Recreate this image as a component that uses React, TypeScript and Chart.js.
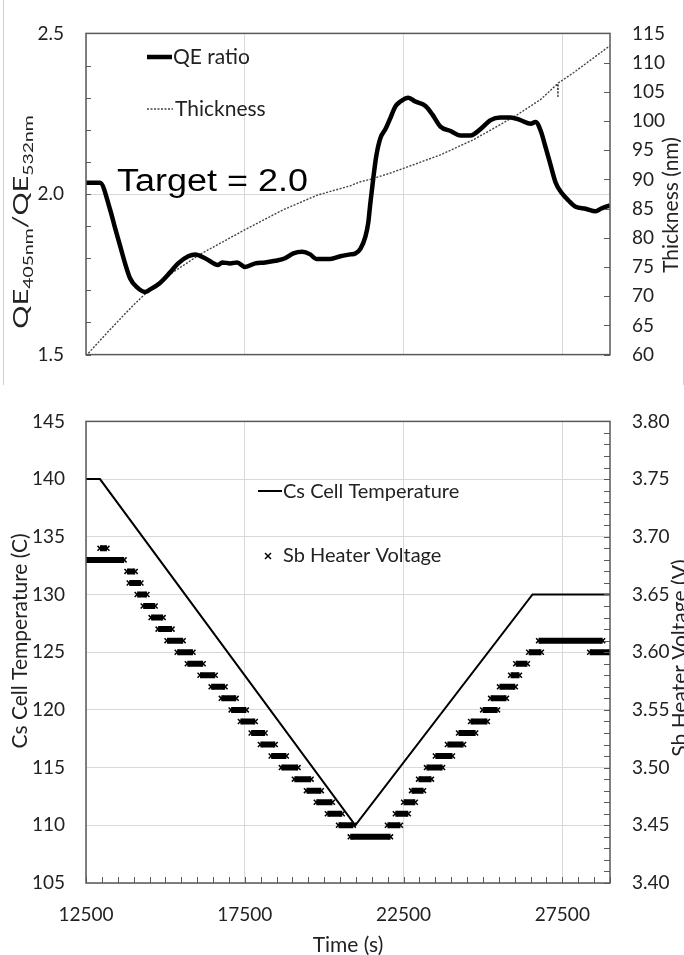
import React, { useEffect, useRef } from 'react';
import { Chart, registerables } from 'chart.js';

Chart.register(...registerables);

// ---------------- Data: top panel ----------------
const qeTime = [12500, 12940, 13260, 13410, 13570, 13730, 13890, 14110, 14360, 14520, 14830, 15150, 15400, 15720, 15940, 16250, 16660, 16790, 17040, 17260, 17510, 17830, 18140, 18460, 18770, 19030, 19310, 19560, 19750, 20190, 20510, 20820, 20980, 21140, 21300, 21390, 21450, 21550, 21640, 21770, 21930, 22090, 22240, 22400, 22650, 22870, 23190, 23410, 23660, 23980, 24290, 24610, 24920, 25240, 25550, 25870, 26180, 26500, 26660, 26820, 26970, 27130, 27290, 27450, 27700, 27920, 28230, 28550, 28710, 29000];
const qeRatio = [2.035, 2.035, 1.951, 1.896, 1.84, 1.784, 1.737, 1.709, 1.695, 1.703, 1.723, 1.756, 1.784, 1.806, 1.812, 1.80, 1.779, 1.787, 1.784, 1.787, 1.773, 1.784, 1.787, 1.792, 1.80, 1.815, 1.82, 1.812, 1.798, 1.798, 1.806, 1.812, 1.815, 1.829, 1.868, 1.912, 1.968, 2.052, 2.118, 2.174, 2.202, 2.238, 2.272, 2.288, 2.30, 2.288, 2.274, 2.247, 2.21, 2.196, 2.182, 2.182, 2.202, 2.23, 2.238, 2.238, 2.23, 2.219, 2.224, 2.196, 2.146, 2.09, 2.035, 2.007, 1.979, 1.96, 1.954, 1.946, 1.954, 1.965];

const thickTime = [12500, 13260, 13980, 14520, 15240, 16100, 17510, 18710, 19780, 20820, 21140, 21450, 22090, 22500, 23660, 24700, 25460, 26090, 26820, 27350, 27360, 27370, 27860, 29000];
const thickNm = [59.8, 64.3, 68.4, 71.2, 74.1, 77.2, 81.4, 84.8, 87.3, 88.9, 89.6, 90.0, 91.1, 91.9, 94.2, 96.8, 99.1, 101.1, 103.7, 106.4, 104.0, 106.5, 108.3, 112.9];

const topXTicks = [12500, 17500, 22500, 27500];
const qeTicks = [1.5, 2.0, 2.5];
const thickTicks = [60, 65, 70, 75, 80, 85, 90, 95, 100, 105, 110, 115];

// ---------------- Data: bottom panel ----------------
const csTime = [12500, 12940, 20980, 26560, 29000];
const csTemp = [140, 140, 110, 130, 130];

const sbStart = [12500, 12940, 13790, 13860, 14110, 14300, 14550, 14770, 15050, 15370, 15690, 16090, 16440, 16760, 17070, 17360, 17700, 17990, 18330, 18650, 19060, 19440, 19750, 20100, 20450, 20820, 21990, 22240, 22500, 22750, 22970, 23220, 23500, 23880, 24230, 24610, 24990, 25240, 25520, 25870, 26030, 26440, 26750, 28360];
const sbEnd = [13700, 13160, 14050, 14230, 14420, 14680, 14930, 15210, 15560, 15870, 16190, 16570, 16880, 17230, 17550, 17830, 18140, 18460, 18810, 19180, 19590, 19910, 20260, 20570, 20920, 22090, 22400, 22650, 22870, 23130, 23380, 23730, 24040, 24390, 24770, 25140, 25460, 25740, 26020, 26150, 26400, 26840, 28770, 29000];
const sbVolt = [3.68, 3.69, 3.67, 3.66, 3.65, 3.64, 3.63, 3.62, 3.61, 3.60, 3.59, 3.58, 3.57, 3.56, 3.55, 3.54, 3.53, 3.52, 3.51, 3.50, 3.49, 3.48, 3.47, 3.46, 3.45, 3.44, 3.45, 3.46, 3.47, 3.48, 3.49, 3.50, 3.51, 3.52, 3.53, 3.54, 3.55, 3.56, 3.57, 3.58, 3.59, 3.60, 3.61, 3.60];

const timeTicks = [12500, 17500, 22500, 27500];
const tempTicks = [105, 110, 115, 120, 125, 130, 135, 140, 145];
const voltTicks = [3.40, 3.45, 3.50, 3.55, 3.60, 3.65, 3.70, 3.75, 3.80];

// ---------------- Styles ----------------
const FONT = 'Lato';
const TEXT = '#222222';
const GRID = '#d9d9d9';
const BORDER = '#595959';
const tickFont = { family: FONT, size: 19 };

function hline(ctx: CanvasRenderingContext2D, x1: number, y1: number, x2: number, y2: number) {
  ctx.beginPath();
  ctx.moveTo(x1, y1);
  ctx.lineTo(x2, y2);
  ctx.stroke();
}

function rotText(ctx: CanvasRenderingContext2D, text: string, x: number, y: number) {
  ctx.save();
  ctx.translate(x, y);
  ctx.rotate(-Math.PI / 2);
  ctx.textAlign = 'center';
  ctx.textBaseline = 'alphabetic';
  ctx.fillText(text, 0, 0);
  ctx.restore();
}

const topDecor = {
  id: 'topDecor',
  afterDatasetsDraw(chart: any) {
    const { ctx, chartArea, scales } = chart;
    const { left, right, top, bottom } = chartArea;
    ctx.save();
    ctx.strokeStyle = BORDER;
    ctx.lineWidth = 1.5;
    ctx.strokeRect(left, top, right - left, bottom - top);
    ctx.lineWidth = 1;
    // minor ticks on QE axis (inward)
    for (let k = 0; k <= 10; k++) {
      const p = Math.round(scales.y.getPixelForValue(1.5 + k * 0.1)) + 0.5;
      hline(ctx, left, p, left + 5, p);
    }
    // ticks on thickness axis (inward)
    for (const v of thickTicks) {
      const p = Math.round(scales.y2.getPixelForValue(v)) + 0.5;
      hline(ctx, right - 6, p, right, p);
    }
    // Legend
    ctx.strokeStyle = '#000';
    ctx.lineWidth = 4.5;
    hline(ctx, 147, 57, 172, 57);
    ctx.strokeStyle = '#444';
    ctx.lineWidth = 1.4;
    ctx.setLineDash([2, 1.5]);
    hline(ctx, 147, 109, 173, 109);
    ctx.setLineDash([]);
    ctx.fillStyle = TEXT;
    ctx.font = `21px ${FONT}`;
    ctx.textAlign = 'left';
    ctx.textBaseline = 'middle';
    ctx.fillText('QE ratio', 173, 57);
    ctx.fillText('Thickness', 175, 109);
    // Target annotation
    ctx.save();
    ctx.fillStyle = '#000';
    ctx.font = `31px "Liberation Sans", Arial, sans-serif`;
    ctx.textBaseline = 'alphabetic';
    ctx.translate(117, 191);
    ctx.scale(1.16, 1);
    ctx.fillText('Target = 2.0', 0, 0);
    ctx.restore();
    // Right axis title
    ctx.fillStyle = TEXT;
    ctx.font = `21px ${FONT}`;
    rotText(ctx, 'Thickness (nm)', 678, 205);
    // Left axis title with subscripts
    ctx.save();
    ctx.translate(28, 222);
    ctx.rotate(-Math.PI / 2);
    ctx.scale(1.38, 1);
    const parts: [string, boolean][] = [['QE', false], ['405nm', true], ['/QE', false], ['532nm', true]];
    const big = `21px ${FONT}`;
    const small = `14px ${FONT}`;
    let total = 0;
    for (const [s, sub] of parts) {
      ctx.font = sub ? small : big;
      total += ctx.measureText(s).width;
    }
    let cx = -total / 2;
    ctx.textAlign = 'left';
    ctx.textBaseline = 'alphabetic';
    for (const [s, sub] of parts) {
      ctx.font = sub ? small : big;
      ctx.fillText(s, cx, sub ? 5 : 0);
      cx += ctx.measureText(s).width;
    }
    ctx.restore();
    ctx.restore();
  },
};

const bottomDecor = {
  id: 'bottomDecor',
  afterDatasetsDraw(chart: any) {
    const { ctx, chartArea, scales } = chart;
    const { left, right, top, bottom } = chartArea;
    ctx.save();
    ctx.strokeStyle = BORDER;
    ctx.lineWidth = 1.5;
    ctx.strokeRect(left, top, right - left, bottom - top);
    ctx.lineWidth = 1;
    // x minor ticks every 500 (inward)
    for (let v = 12500; v <= 29000; v += 500) {
      const p = Math.round(scales.x.getPixelForValue(v)) + 0.5;
      hline(ctx, p, bottom - 6, p, bottom);
    }
    // voltage minor ticks every 0.01 (inward)
    for (let k = 0; k <= 40; k++) {
      const p = Math.round(scales.y2.getPixelForValue(3.4 + k * 0.01)) + 0.5;
      hline(ctx, right - 6, p, right, p);
    }
    // Legend
    ctx.strokeStyle = '#000';
    ctx.lineWidth = 2;
    hline(ctx, 258, 103, 282, 103);
    ctx.lineWidth = 1.5;
    hline(ctx, 265, 165, 271, 171);
    hline(ctx, 265, 171, 271, 165);
    ctx.fillStyle = TEXT;
    ctx.font = `20px ${FONT}`;
    ctx.textAlign = 'left';
    ctx.textBaseline = 'middle';
    ctx.fillText('Cs Cell Temperature', 283, 104);
    ctx.fillText('Sb Heater Voltage', 283, 168);
    // Axis titles
    ctx.font = `21px ${FONT}`;
    rotText(ctx, 'Cs Cell Temperature (C)', 27, 253);
    rotText(ctx, 'Sb Heater Voltage (V)', 687, 270);
    ctx.textAlign = 'center';
    ctx.textBaseline = 'alphabetic';
    ctx.fillText('Time (s)', 348, 564);
    ctx.restore();
  },
};

function setTicks(values: number[]) {
  return (scale: any) => {
    scale.ticks = values.map((v) => ({ value: v }));
  };
}

export default function App() {
  const topRef = useRef<HTMLCanvasElement>(null);
  const botRef = useRef<HTMLCanvasElement>(null);

  useEffect(() => {
    const top = new Chart(topRef.current as HTMLCanvasElement, {
      type: 'line',
      data: {
        datasets: [
          {
            label: 'QE ratio',
            data: qeTime.map((t, i) => ({ x: t, y: qeRatio[i] })),
            borderColor: '#000',
            borderWidth: 4.5,
            pointRadius: 0,
            cubicInterpolationMode: 'monotone',
            yAxisID: 'y',
          },
          {
            label: 'Thickness',
            data: thickTime.map((t, i) => ({ x: t, y: thickNm[i] })),
            borderColor: '#444',
            borderWidth: 1.4,
            borderDash: [2, 1.5],
            pointRadius: 0,
            yAxisID: 'y2',
          },
        ],
      },
      options: {
        animation: false,
        responsive: false,
        events: [],
        layout: { padding: { top: 16, left: 0, right: 0, bottom: 0 } },
        plugins: { legend: { display: false }, tooltip: { enabled: false } },
        scales: {
          x: {
            type: 'linear',
            min: 12500,
            max: 29000,
            afterBuildTicks: setTicks(topXTicks),
            ticks: { display: false },
            grid: { color: GRID, drawTicks: false },
            border: { display: false },
            afterFit: (s: any) => { s.height = 13; },
          },
          y: {
            type: 'linear',
            min: 1.5,
            max: 2.5,
            afterBuildTicks: setTicks(qeTicks),
            ticks: { font: tickFont, color: TEXT, padding: 22, callback: (v: any) => Number(v).toFixed(1) },
            grid: { color: GRID, drawTicks: false },
            border: { display: false },
            afterFit: (s: any) => { s.width = 86; },
          },
          y2: {
            type: 'linear',
            position: 'right',
            min: 60,
            max: 115,
            afterBuildTicks: setTicks(thickTicks),
            ticks: { font: tickFont, color: TEXT, padding: 22 },
            grid: { drawOnChartArea: false, drawTicks: false },
            border: { display: false },
            afterFit: (s: any) => { s.width = 74; },
          },
        },
      },
      plugins: [topDecor],
    } as any);

    const sbData: any[] = [];
    sbStart.forEach((s, i) => {
      sbData.push({ x: s, y: sbVolt[i] });
      sbData.push({ x: sbEnd[i], y: sbVolt[i] });
      sbData.push({ x: sbEnd[i], y: null });
    });

    const bot = new Chart(botRef.current as HTMLCanvasElement, {
      type: 'line',
      data: {
        datasets: [
          {
            label: 'Cs Cell Temperature',
            data: csTime.map((t, i) => ({ x: t, y: csTemp[i] })),
            borderColor: '#000',
            borderWidth: 2,
            pointRadius: 0,
            yAxisID: 'y',
          },
          {
            label: 'Sb Heater Voltage',
            data: sbData,
            borderColor: '#000',
            borderWidth: 6,
            borderCapStyle: 'butt',
            spanGaps: false,
            pointStyle: 'crossRot',
            pointRadius: 3.5,
            pointBorderWidth: 1.5,
            pointBorderColor: '#000',
            yAxisID: 'y2',
          },
        ],
      },
      options: {
        animation: false,
        responsive: false,
        events: [],
        layout: { padding: { top: 13, left: 0, right: 0, bottom: 0 } },
        plugins: { legend: { display: false }, tooltip: { enabled: false } },
        scales: {
          x: {
            type: 'linear',
            min: 12500,
            max: 29000,
            afterBuildTicks: setTicks(timeTicks),
            ticks: { font: tickFont, color: TEXT, padding: 20, callback: (v: any) => String(v) },
            grid: { color: GRID, drawTicks: false },
            border: { display: false },
            afterFit: (s: any) => { s.height = 72; },
          },
          y: {
            type: 'linear',
            min: 105,
            max: 145,
            afterBuildTicks: setTicks(tempTicks),
            ticks: { font: tickFont, color: TEXT, padding: 21 },
            grid: { color: GRID, drawTicks: false },
            border: { display: false },
            afterFit: (s: any) => { s.width = 86; },
          },
          y2: {
            type: 'linear',
            position: 'right',
            min: 3.4,
            max: 3.8,
            afterBuildTicks: setTicks(voltTicks),
            ticks: { font: tickFont, color: TEXT, padding: 22, callback: (v: any) => Number(v).toFixed(2) },
            grid: { drawOnChartArea: false, drawTicks: false },
            border: { display: false },
            afterFit: (s: any) => { s.width = 74; },
          },
        },
      },
      plugins: [bottomDecor],
    } as any);

    return () => {
      top.destroy();
      bot.destroy();
    };
  }, []);

  return (
    <div style={{ position: 'absolute', left: 0, top: 0, width: 684, height: 955, background: '#fff', overflow: 'hidden' }}>
      <div style={{ position: 'absolute', left: 3, top: 0, width: 0, height: 385, borderLeft: '1px solid #d0d0d0' }} />
      <div style={{ position: 'absolute', left: 683, top: 0, width: 0, height: 385, borderLeft: '1px solid #d0d0d0' }} />
      <canvas ref={topRef} width={684} height={388} style={{ position: 'absolute', left: 0, top: 0, width: 684, height: 388 }} />
      <canvas ref={botRef} width={684} height={567} style={{ position: 'absolute', left: 0, top: 388, width: 684, height: 567 }} />
    </div>
  );
}
